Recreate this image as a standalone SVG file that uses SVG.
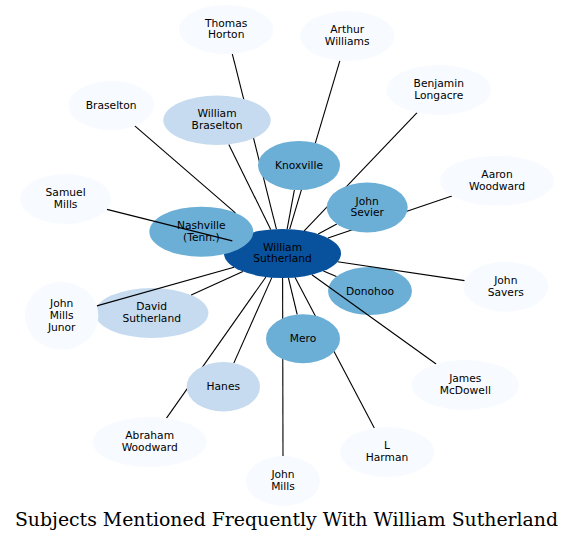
<svg xmlns="http://www.w3.org/2000/svg" width="575" height="541" viewBox="0 0 575 541">
<style>
.n0{fill:#f7fbff}
.n1{fill:#c6dbef}
.n2{fill:#6baed6}
.n3{fill:#08519c}
.lbl{font-family:"DejaVu Sans","Liberation Sans",sans-serif;font-size:10.7px;fill:#000;text-anchor:middle}
.edge line{stroke:#000;stroke-width:1.1;fill:none}
.title{font-family:"DejaVu Serif","Liberation Serif",serif;font-size:18.85px;fill:#000;text-anchor:middle}
</style>
<rect width="575" height="541" fill="#fff"/>
<!-- nodes drawn beneath connectors -->
<g id="node-william-sutherland"><ellipse class="n3" cx="282.5" cy="253.5" rx="58.5" ry="24.5"/><text class="lbl" x="282.5" y="250.6">William</text><text class="lbl" x="282.5" y="262.3">Sutherland</text></g>
<g id="node-nashville"><ellipse class="n2" cx="201.3" cy="231.7" rx="52" ry="25"/><text class="lbl" x="201.3" y="228.8">Nashville</text><text class="lbl" x="201.3" y="240.5">(Tenn.)</text></g>
<g id="node-donohoo"><ellipse class="n2" cx="370" cy="291" rx="42" ry="24"/><text class="lbl" x="370" y="294.5">Donohoo</text></g>
<g id="node-david-sutherland"><ellipse class="n1" cx="151.7" cy="313" rx="56.7" ry="25"/><text class="lbl" x="151.7" y="310.1">David</text><text class="lbl" x="151.7" y="321.8">Sutherland</text></g>
<g id="connectors" class="edge">
<line x1="232.3" y1="53.8" x2="276.4" y2="229.1"/>
<line x1="339.9" y1="60.7" x2="289.7" y2="229.2"/>
<line x1="417.1" y1="112.7" x2="304.2" y2="230.8"/>
<line x1="134.8" y1="125.9" x2="235.4" y2="212.8"/>
<line x1="228.8" y1="144.4" x2="270.7" y2="229.5"/>
<line x1="294.4" y1="189.9" x2="287.1" y2="229.1"/>
<line x1="451.9" y1="196.0" x2="328.0" y2="238.1"/>
<line x1="106.9" y1="209.4" x2="232.3" y2="240.9"/>
<line x1="336.8" y1="224.0" x2="318.2" y2="234.1"/>
<line x1="464.6" y1="280.6" x2="337.6" y2="261.7"/>
<line x1="336.4" y1="276.6" x2="323.4" y2="271.0"/>
<line x1="96.8" y1="305.9" x2="234.0" y2="267.2"/>
<line x1="191.2" y1="295.1" x2="242.9" y2="271.5"/>
<line x1="297.2" y1="314.5" x2="288.4" y2="277.9"/>
<line x1="233.8" y1="363.1" x2="271.8" y2="277.6"/>
<line x1="436.1" y1="364.0" x2="311.9" y2="274.7"/>
<line x1="166.5" y1="418.1" x2="265.9" y2="277.0"/>
<line x1="374.3" y1="427.9" x2="295.1" y2="277.4"/>
<line x1="283.0" y1="456.0" x2="282.6" y2="278.0"/>
</g>
<!-- nodes drawn above connectors -->
<g id="node-thomas-horton"><ellipse class="n0" cx="226.2" cy="29.5" rx="47.2" ry="24.5"/><text class="lbl" x="226.2" y="26.6">Thomas</text><text class="lbl" x="226.2" y="38.3">Horton</text></g>
<g id="node-arthur-williams"><ellipse class="n0" cx="347.2" cy="36" rx="47.2" ry="25"/><text class="lbl" x="347.2" y="33.1">Arthur</text><text class="lbl" x="347.2" y="44.8">Williams</text></g>
<g id="node-benjamin-longacre"><ellipse class="n0" cx="438.8" cy="90" rx="52.2" ry="25"/><text class="lbl" x="438.8" y="87.1">Benjamin</text><text class="lbl" x="438.8" y="98.8">Longacre</text></g>
<g id="node-braselton"><ellipse class="n0" cx="111.2" cy="105.5" rx="42.8" ry="24.5"/><text class="lbl" x="111.2" y="108.7">Braselton</text></g>
<g id="node-william-braselton"><ellipse class="n1" cx="217" cy="120.3" rx="53.7" ry="24.7"/><text class="lbl" x="217" y="117.4">William</text><text class="lbl" x="217" y="129.1">Braselton</text></g>
<g id="node-knoxville"><ellipse class="n2" cx="299" cy="165.5" rx="41" ry="24.5"/><text class="lbl" x="299" y="169">Knoxville</text></g>
<g id="node-aaron-woodward"><ellipse class="n0" cx="497" cy="180.7" rx="57" ry="25"/><text class="lbl" x="497" y="177.8">Aaron</text><text class="lbl" x="497" y="189.5">Woodward</text></g>
<g id="node-samuel-mills"><ellipse class="n0" cx="65.6" cy="199" rx="45.4" ry="25"/><text class="lbl" x="65.6" y="196.1">Samuel</text><text class="lbl" x="65.6" y="207.8">Mills</text></g>
<g id="node-john-sevier"><ellipse class="n2" cx="367.2" cy="207.5" rx="40.5" ry="25"/><text class="lbl" x="367.2" y="204.6">John</text><text class="lbl" x="367.2" y="216.3">Sevier</text></g>
<g id="node-john-savers"><ellipse class="n0" cx="505.8" cy="286.7" rx="42.5" ry="25"/><text class="lbl" x="505.8" y="283.8">John</text><text class="lbl" x="505.8" y="295.5">Savers</text></g>
<g id="node-john-mills-junor"><ellipse class="n0" cx="61.7" cy="315.8" rx="36.7" ry="34"/><text class="lbl" x="61.7" y="307.1">John</text><text class="lbl" x="61.7" y="318.8">Mills</text><text class="lbl" x="61.7" y="330.5">Junor</text></g>
<g id="node-mero"><ellipse class="n2" cx="303" cy="338.7" rx="37" ry="24.5"/><text class="lbl" x="303" y="342.2">Mero</text></g>
<g id="node-hanes"><ellipse class="n1" cx="223.3" cy="386.8" rx="36.7" ry="24.7"/><text class="lbl" x="223.3" y="390.3">Hanes</text></g>
<g id="node-james-mcdowell"><ellipse class="n0" cx="465.3" cy="385" rx="53.7" ry="25"/><text class="lbl" x="465.3" y="382.1">James</text><text class="lbl" x="465.3" y="393.8">McDowell</text></g>
<g id="node-abraham-woodward"><ellipse class="n0" cx="149.7" cy="442" rx="57" ry="25"/><text class="lbl" x="149.7" y="439.1">Abraham</text><text class="lbl" x="149.7" y="450.8">Woodward</text></g>
<g id="node-l-harman"><ellipse class="n0" cx="387" cy="452" rx="47" ry="25"/><text class="lbl" x="387" y="449.1">L</text><text class="lbl" x="387" y="460.8">Harman</text></g>
<g id="node-john-mills"><ellipse class="n0" cx="283" cy="481" rx="37" ry="25"/><text class="lbl" x="283" y="478.1">John</text><text class="lbl" x="283" y="489.8">Mills</text></g>
<text class="title" x="286.5" y="525.5">Subjects Mentioned Frequently With William Sutherland</text>
</svg>
